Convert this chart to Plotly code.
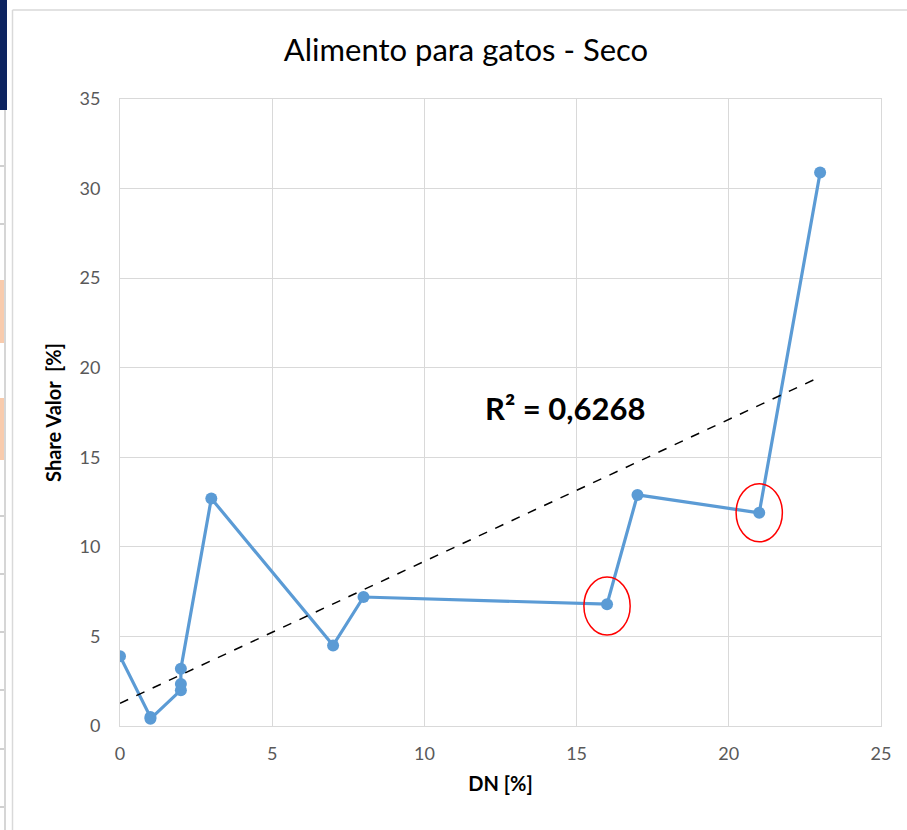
import plotly.graph_objects as go

# ---- data ----
dn = [0, 1, 1, 2, 2, 2, 3, 7, 8, 16, 17, 21, 23]
share = [3.9, 0.5, 0.4, 2.0, 2.35, 3.2, 12.7, 4.5, 7.2, 6.8, 12.9, 11.9, 30.9]
trend_x = [0, 23]
trend_y = [1.27, 19.49]
r2_text = "R² = 0,6268"
highlight_x = [16, 21]
highlight_y = [6.7, 11.9]
x_ticks = [0, 5, 10, 15, 20, 25]
y_ticks = [0, 5, 10, 15, 20, 25, 30, 35]

W, H = 907, 830
L, R, T, B = 120, 881, 99, 726
FONT = "Lato"

def px(xp):
    return (xp - L) / (R - L)

def py(yp):
    return (B - yp) / (B - T)

fig = go.Figure()
fig.add_trace(go.Scatter(
    x=dn, y=share, mode="lines+markers",
    line=dict(color="#5B9BD5", width=3.2),
    marker=dict(color="#5B9BD5", size=12),
    showlegend=False, hoverinfo="x+y"))
fig.add_trace(go.Scatter(
    x=trend_x, y=trend_y, mode="lines",
    line=dict(color="black", width=1.5, dash="dash"),
    showlegend=False, hoverinfo="skip"))

shapes = []
# red ellipses around highlighted points
for hx, hy in zip(highlight_x, highlight_y):
    shapes.append(dict(type="circle", xref="x", yref="y",
                       x0=hx - 0.76, x1=hx + 0.76, y0=hy - 1.62, y1=hy + 1.62,
                       line=dict(color="#FF0000", width=1.5)))

# decorations from the spreadsheet around the chart
shapes.append(dict(type="rect", xref="paper", yref="paper",
                   x0=px(0), x1=px(7), y0=py(110), y1=py(0),
                   fillcolor="#0D2460", line=dict(width=0), layer="above"))
for a, b in [(280, 343), (398, 460)]:
    shapes.append(dict(type="rect", xref="paper", yref="paper",
                       x0=px(0), x1=px(5), y0=py(b), y1=py(a),
                       fillcolor="#F8CBAD", line=dict(width=0)))
for gy in [166, 224, 516, 574, 632, 690, 749, 807]:
    shapes.append(dict(type="line", xref="paper", yref="paper",
                       x0=px(0), x1=px(5), y0=py(gy), y1=py(gy),
                       line=dict(color="#D0D0D0", width=2)))
shapes.append(dict(type="line", xref="paper", yref="paper",
                   x0=px(5), x1=px(5), y0=py(830), y1=py(110),
                   line=dict(color="#D6D6D6", width=2)))
# chart frame
shapes.append(dict(type="line", xref="paper", yref="paper",
                   x0=px(12.5), x1=px(12.5), y0=py(830), y1=py(10),
                   line=dict(color="#D9D9D9", width=1.5)))
shapes.append(dict(type="line", xref="paper", yref="paper",
                   x0=px(12.5), x1=px(907), y0=py(10), y1=py(10),
                   line=dict(color="#D9D9D9", width=1.5)))

fig.update_layout(
    width=W, height=H,
    margin=dict(l=L, r=W - R, t=T, b=H - B),
    paper_bgcolor="white", plot_bgcolor="white",
    title=dict(text="Alimento para gatos - Seco", x=466 / W, xref="container",
               xanchor="center", y=1 - 50 / H, yref="container", yanchor="middle",
               font=dict(family=FONT, size=31, color="black")),
    shapes=shapes,
    annotations=[dict(text="<b>" + r2_text + "</b>", x=14.65, y=17.76,
                      xref="x", yref="y", showarrow=False,
                      font=dict(family=FONT, size=31, color="black"))],
    xaxis=dict(range=[0, 25], tickvals=x_ticks, showgrid=True,
               gridcolor="#D9D9D9", gridwidth=1, zeroline=False,
               showline=True, linecolor="#D9D9D9", linewidth=1, mirror=True,
               ticks="", ticklabelstandoff=11,
               tickfont=dict(family=FONT, size=18, color="#595959"),
               title=dict(text="<b>DN [%]</b>", standoff=14,
                          font=dict(family=FONT, size=20, color="black"))),
    yaxis=dict(range=[0, 35], tickvals=y_ticks, showgrid=True,
               gridcolor="#D9D9D9", gridwidth=1, zeroline=False,
               showline=True, linecolor="#D9D9D9", linewidth=1, mirror=True,
               ticks="", ticklabelstandoff=15,
               tickfont=dict(family=FONT, size=18, color="#595959"),
               title=dict(text="<b>Share Valor&nbsp;&nbsp;[%]</b>", standoff=12,
                          font=dict(family=FONT, size=20, color="black"))),
)

fig.write_html("out.html", config={"displayModeBar": False},
               post_script="document.body.style.margin='0';")
